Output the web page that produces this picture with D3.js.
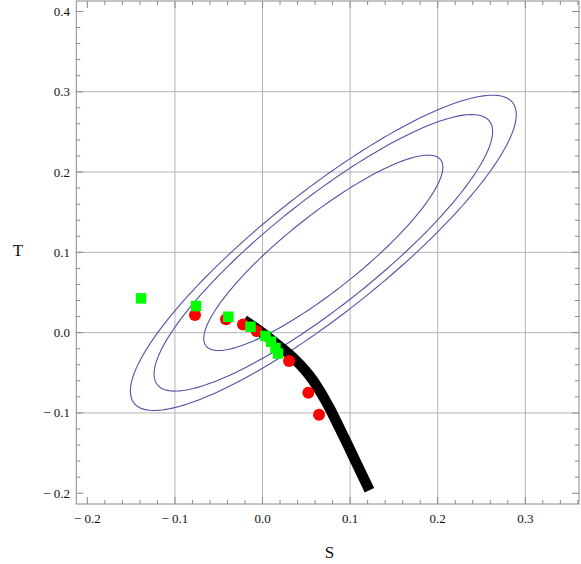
<!DOCTYPE html>
<html><head><meta charset="utf-8">
<script src="https://cdn.jsdelivr.net/npm/d3@7"></script>
<style>body{margin:0;background:#fff}svg{display:block}</style>
</head><body>
<svg id="c" width="581" height="564"></svg>
<script>
// ---- data ----
const xDomain = [-0.2126, 0.3613];
const yDomain = [-0.2134, 0.4130];
const xTicks = [-0.2, -0.1, 0.0, 0.1, 0.2, 0.3];
const xTickLabels = ["\u2212 0.2", "\u2212 0.1", "0.0", "0.1", "0.2", "0.3"];
const yTicks = [-0.2, -0.1, 0.0, 0.1, 0.2, 0.3, 0.4];
const yTickLabels = ["\u2212 0.2", "\u2212 0.1", "0.0", "0.1", "0.2", "0.3", "0.4"];
const xGrid = [-0.1, 0.0, 0.1, 0.2, 0.3];
const yGrid = [-0.1, 0.0, 0.1, 0.2, 0.3];

// confidence contours (S,T fit): centre, sigmas, correlation, delta-chi2 levels
const ellCenter = [0.0694, 0.0994];
const ellSigma = [0.0900, 0.0802];
const ellRho = 0.877;
const ellLevels = [2.30, 4.61, 5.99];

// black model curve
const curveS = [-0.0211, -0.0046, 0.0106, 0.0248, 0.0376, 0.0485, 0.0574, 0.0648, 0.0715, 0.0777, 0.0834, 0.0890, 0.0946, 0.1001, 0.1056, 0.1111, 0.1166, 0.1220];
const curveT = [0.0157, 0.0032, -0.0092, -0.0217, -0.0341, -0.0466, -0.0590, -0.0715, -0.0839, -0.0964, -0.1088, -0.1213, -0.1337, -0.1462, -0.1588, -0.1713, -0.1838, -0.1962];

// red circles
const redS = [-0.0771, -0.0417, -0.0223, -0.0068, 0.0303, 0.0523, 0.0645];
const redT = [0.0219, 0.0166, 0.0101, 0.0020, -0.0354, -0.0748, -0.1022];

// green squares
const greenS = [-0.1387, -0.0759, -0.0390, -0.0137, 0.0034, 0.0097, 0.0148, 0.0177];
const greenT = [0.0427, 0.0331, 0.0198, 0.0073, -0.0042, -0.0113, -0.0192, -0.0260];

// ---- drawing ----
const svg = d3.select("#c");
const L = 76.3, R = 579, T = 1, B = 504;
const x = d3.scaleLinear().domain(xDomain).range([L, R]);
const y = d3.scaleLinear().domain(yDomain).range([B, T]);
const serif = "'Liberation Serif', 'Times New Roman', serif";

svg.append("defs").append("clipPath").attr("id", "clip")
  .append("rect").attr("x", L).attr("y", T).attr("width", R - L).attr("height", B - T);

// grid
const g = svg.append("g");
g.selectAll(".gx").data(xGrid).join("line")
  .attr("x1", d => x(d)).attr("x2", d => x(d)).attr("y1", T).attr("y2", B)
  .attr("stroke", "#b4b4b4").attr("stroke-width", 1);
g.selectAll(".gy").data(yGrid).join("line")
  .attr("y1", d => y(d)).attr("y2", d => y(d)).attr("x1", L).attr("x2", R)
  .attr("stroke", "#b4b4b4").attr("stroke-width", 1);

// frame ticks
const minorX = d3.range(-0.2, 0.3601, 0.02).map(v => +v.toFixed(2));
const minorY = d3.range(-0.2, 0.4001, 0.02).map(v => +v.toFixed(2));
const isMajor = v => Math.abs(v * 10 - Math.round(v * 10)) < 1e-6;
const tk = svg.append("g").attr("stroke", "#8a8a8a").attr("stroke-width", 1);
minorX.forEach(v => {
  const len = isMajor(v) ? 7 : 4;
  tk.append("line").attr("x1", x(v)).attr("x2", x(v)).attr("y1", B).attr("y2", B - len);
  tk.append("line").attr("x1", x(v)).attr("x2", x(v)).attr("y1", T).attr("y2", T + len);
});
minorY.forEach(v => {
  const len = isMajor(v) ? 7 : 4;
  tk.append("line").attr("y1", y(v)).attr("y2", y(v)).attr("x1", L).attr("x2", L + len);
  tk.append("line").attr("y1", y(v)).attr("y2", y(v)).attr("x1", R).attr("x2", R - len);
});

const plot = svg.append("g").attr("clip-path", "url(#clip)");

// contours
const ts = d3.range(0, 361, 2).map(a => a * Math.PI / 180);
const lineGen = d3.line().x(d => x(d[0])).y(d => y(d[1]));
ellLevels.forEach(c => {
  const k = Math.sqrt(c);
  const pts = ts.map(t => [
    ellCenter[0] + k * ellSigma[0] * Math.cos(t),
    ellCenter[1] + k * ellSigma[1] * (ellRho * Math.cos(t) + Math.sqrt(1 - ellRho * ellRho) * Math.sin(t))
  ]);
  plot.append("path").attr("d", lineGen(pts) + "Z")
    .attr("fill", "none").attr("stroke", "#5252a8").attr("stroke-width", 1.1);
});

// black curve
const cpts = curveS.map((s, i) => [s, curveT[i]]);
plot.append("path")
  .attr("d", d3.line().x(d => x(d[0])).y(d => y(d[1])).curve(d3.curveCatmullRom)(cpts))
  .attr("fill", "none").attr("stroke", "#000").attr("stroke-width", 10.5).attr("stroke-linecap", "butt");

// red circles
plot.selectAll(".red").data(redS.map((s, i) => [s, redT[i]])).join("circle")
  .attr("cx", d => x(d[0])).attr("cy", d => y(d[1])).attr("r", 6).attr("fill", "#ff0000");

// green squares
const sq = 10.5;
plot.selectAll(".grn").data(greenS.map((s, i) => [s, greenT[i]])).join("rect")
  .attr("x", d => x(d[0]) - sq / 2).attr("y", d => y(d[1]) - sq / 2)
  .attr("width", sq).attr("height", sq).attr("fill", "#00ff00");

// frame
svg.append("rect").attr("x", L).attr("y", T).attr("width", R - L).attr("height", B - T)
  .attr("fill", "none").attr("stroke", "#8a8a8a").attr("stroke-width", 1);

// tick labels
svg.append("g").selectAll("text").data(xTicks).join("text")
  .attr("x", d => x(d)).attr("y", 523).attr("text-anchor", "middle")
  .attr("font-family", serif).attr("font-size", 13).attr("fill", "#111")
  .text((d, i) => xTickLabels[i]);
svg.append("g").selectAll("text").data(yTicks).join("text")
  .attr("x", 70).attr("y", d => y(d) + 4.5).attr("text-anchor", "end")
  .attr("font-family", serif).attr("font-size", 13).attr("fill", "#111")
  .text((d, i) => yTickLabels[i]);

// axis titles
svg.append("text").attr("x", 329.5).attr("y", 558).attr("text-anchor", "middle")
  .attr("font-family", serif).attr("font-size", 17).attr("fill", "#111").text("S");
svg.append("text").attr("x", 18).attr("y", 256).attr("text-anchor", "middle")
  .attr("font-family", serif).attr("font-size", 17).attr("fill", "#111").text("T");
</script>
</body></html>
